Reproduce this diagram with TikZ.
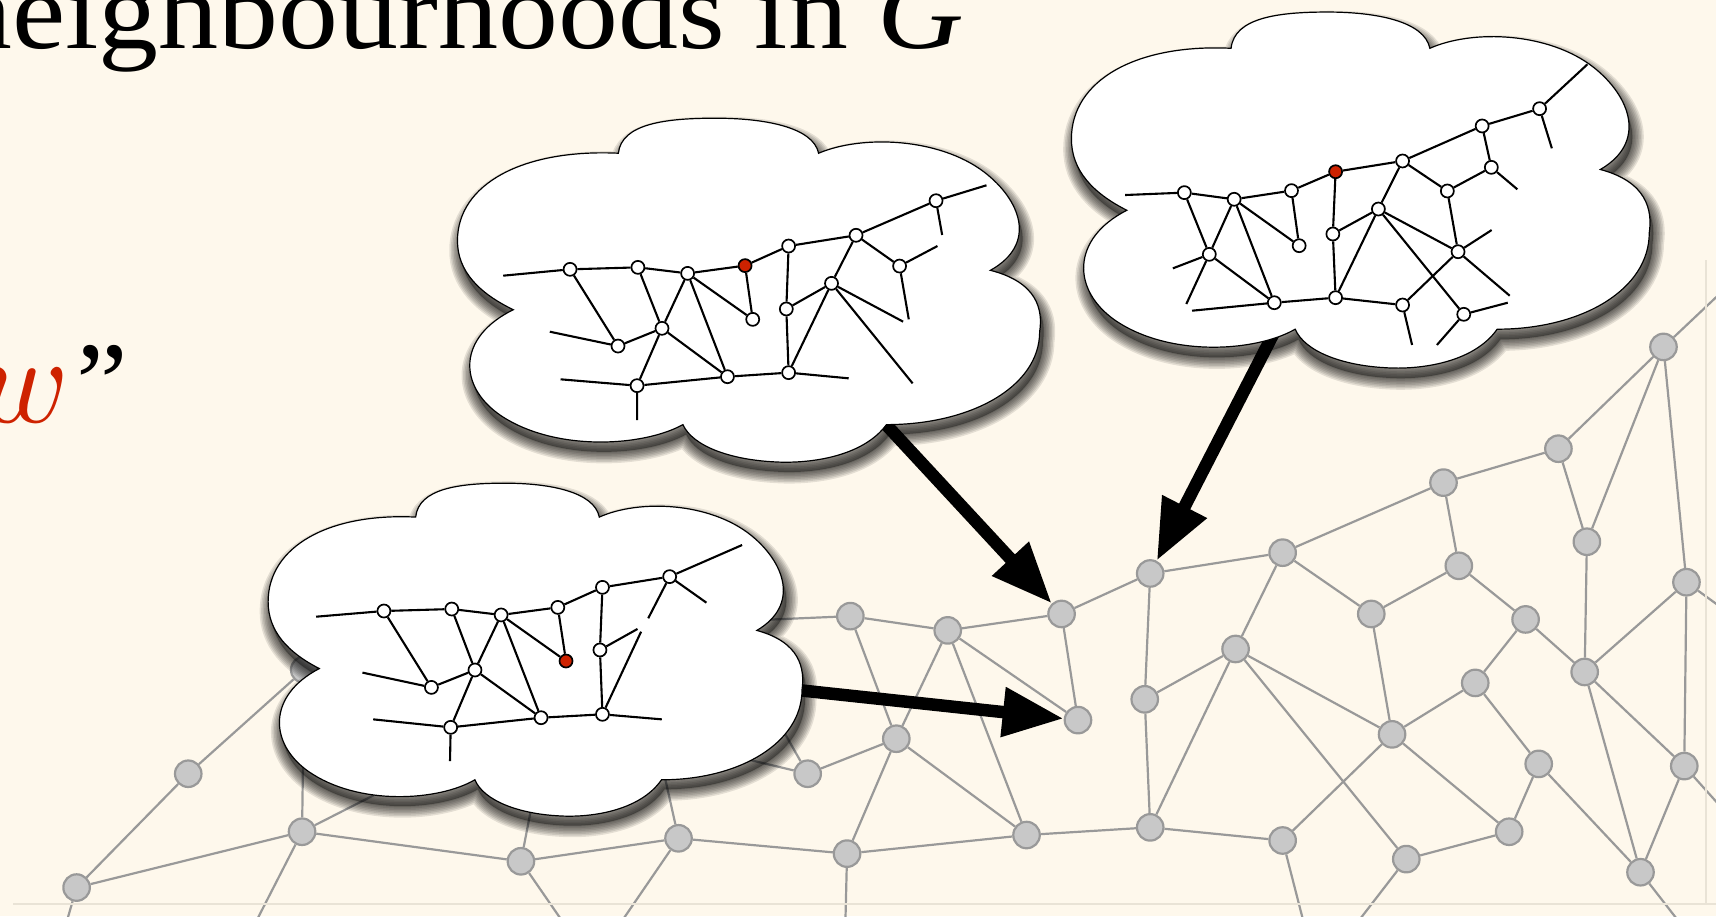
\documentclass[tikz,border=0pt]{standalone}
\usepackage{fontspec}
\setmainfont{Liberation Serif}
\newfontfamily\titlefont[FakeStretch=1.09]{Liberation Serif}
\usetikzlibrary{arrows.meta}

\definecolor{paper}{RGB}{254,248,236}
\definecolor{nodegray}{RGB}{200,200,200}
\definecolor{edgegray}{RGB}{153,153,153}
\definecolor{hotred}{RGB}{206,34,0}
\definecolor{framegray}{RGB}{233,227,214}

% outline of a thought cloud, in its own local units (532 x 314)
\newcommand{\cloudoutline}{(51,175) .. controls (20,160) and (0,140) .. (0,112)
  .. controls (0,60) and (60,28) .. (147,32)
  .. controls (150,5) and (190,0) .. (236,0)
  .. controls (280,0) and (325,8) .. (330,32)
  .. controls (370,15) and (440,18) .. (481,49)
  .. controls (515,75) and (530,115) .. (487,139)
  .. controls (530,150) and (535,175) .. (532,195)
  .. controls (532,245) and (470,280) .. (392,280)
  .. controls (370,310) and (320,316) .. (289,314)
  .. controls (250,312) and (215,300) .. (206,280)
  .. controls (170,300) and (90,305) .. (40,272)
  .. controls (0,245) and (0,200) .. (51,175) -- cycle}

% cloud with a soft drop shadow: #1 shift, #2 xscale, #3 yscale
\newcommand{\drawcloud}[3]{%
  \begin{scope}[shift={#1}, xscale=#2, yscale=#3]
    \begin{scope}[shift={(3,9)}]
      \foreach \w in {2,5,8,11,14,17,20,23}{
        \draw[black, line width=\w pt, opacity=0.1, line join=round] \cloudoutline;
      }
      \fill[black, opacity=0.35] \cloudoutline;
    \end{scope}
    \path[cloudbody] \cloudoutline;
  \end{scope}}

\begin{document}
\begin{tikzpicture}[x=1.0944pt, y=-1.0944pt,
  gn/.style={circle, fill=nodegray, draw=edgegray, line width=2.2pt, minimum size=26.5pt, inner sep=0pt},
  ge/.style={draw=edgegray, line width=2.2pt},
  mn/.style={circle, fill=white, draw=black, line width=1.7pt, minimum size=13pt, inner sep=0pt},
  mr/.style={mn, fill=hotred},
  me/.style={draw=black, line width=2.1pt},
  bigarrow/.style={draw=black, line width=12.5pt, -{Triangle[length=61pt,width=47pt]}},
  cloudbody/.style={fill=white, draw=black, line width=1.2pt},
  framing/.style={draw=framegray, line width=1.6pt}]

\useasboundingbox (0,0) rectangle (1568,837);
\clip (0,0) rectangle (1568,837);
\fill[paper] (0,0) rectangle (1568,837);

% ---------------- the large graph G ----------------
\node[gn] (g1)  at (1520,317) {};
\node[gn] (g2)  at (1424,410) {};
\node[gn] (g3)  at (1319,441) {};
\node[gn] (g4)  at (1450,495) {};
\node[gn] (g5)  at (1172,505) {};
\node[gn] (g6)  at (1333,517) {};
\node[gn] (g7)  at (1051,524) {};
\node[gn] (g8)  at (1541,532) {};
\node[gn] (g9)  at (970,561) {};
\node[gn] (g10) at (1253,561) {};
\node[gn] (g11) at (1394,566) {};
\node[gn] (g12) at (866,576) {};
\node[gn] (g13) at (777,563) {};
\node[gn] (g14) at (1129,593) {};
\node[gn] (g15) at (1448,614) {};
\node[gn] (g16) at (1348,624) {};
\node[gn] (g17) at (1046,639) {};
\node[gn] (g18) at (985,658) {};
\node[gn] (g19) at (819,675) {};
\node[gn] (g20) at (1272,671) {};
\node[gn] (g21) at (1406,698) {};
\node[gn] (g22) at (1539,700) {};
\node[gn] (g23) at (738,707) {};
\node[gn] (g24) at (172,707) {};
\node[gn] (g25) at (276,760) {};
\node[gn] (g26) at (938,763) {};
\node[gn] (g27) at (1051,756) {};
\node[gn] (g28) at (620,766) {};
\node[gn] (g29) at (774,780) {};
\node[gn] (g30) at (1172,768) {};
\node[gn] (g31) at (1379,760) {};
\node[gn] (g32) at (476,787) {};
\node[gn] (g33) at (1285,785) {};
\node[gn] (g34) at (70,811) {};
\node[gn] (g35) at (1499,797) {};
\node[gn] (g36) at (278,612) {};

% free ends of edges leaving the frame or passing under a cloud
\coordinate (s1)  at (1574,266);
\coordinate (s8)  at (1574,556);
\coordinate (s22) at (1574,739);
\coordinate (s30) at (1191,842);
\coordinate (s33) at (1241,842);
\coordinate (s35) at (1534,842);
\coordinate (s29) at (772.5,842);
\coordinate (s28) at (568,842);
\coordinate (s32) at (514,842);
\coordinate (s25) at (234,842);
\coordinate (s34) at (61,842);
\coordinate (h13)  at (660,568);
\coordinate (h23a) at (700,640);
\coordinate (h23b) at (650,686);
\coordinate (h28)  at (603,690);
\coordinate (h32)  at (489,720);
\coordinate (h25)  at (380,707);

\path[ge] (g1) -- (g2)  (g1) -- (g4)  (g1) -- (g8)  (g1) -- (s1)
  (g2) -- (g3)  (g2) -- (g4)
  (g3) -- (g5)  (g3) -- (g6)
  (g5) -- (g7)  (g5) -- (g10)  (g5) -- (g14)
  (g7) -- (g9)  (g7) -- (g17)
  (g6) -- (g10)  (g6) -- (g11)
  (g4) -- (g15)
  (g8) -- (g15)  (g8) -- (g22)  (g8) -- (s8)
  (g9) -- (g12)  (g9) -- (g18)
  (g12) -- (g13)  (g12) -- (g18)  (g12) -- (g19)  (g12) -- (g26)
  (g13) -- (g19)  (g13) -- (h13)
  (g14) -- (g17)  (g14) -- (g20)  (g14) -- (g33)  (g14) -- (g27)
  (g10) -- (g20)
  (g11) -- (g16)  (g11) -- (g15)
  (g16) -- (g20)  (g16) -- (g21)
  (g20) -- (g30)  (g20) -- (g31)
  (g21) -- (g31)  (g21) -- (g35)
  (g15) -- (g35)  (g15) -- (g22)
  (g22) -- (g35)  (g22) -- (s22)
  (g26) -- (g27)  (g26) -- (g29)
  (g27) -- (g30)  (g17) -- (g27)
  (g30) -- (s30)
  (g33) -- (g31)  (g33) -- (s33)
  (g35) -- (s35)
  (g19) -- (g29)  (g19) -- (g26)  (g19) -- (g23)
  (g29) -- (s29)
  (g23) -- (h23a)  (g23) -- (h23b)
  (g28) -- (g32)  (g28) -- (g29)  (g28) -- (h28)  (g28) -- (s28)
  (g32) -- (g25)  (g32) -- (h32)  (g32) -- (s32)
  (g25) -- (g34)  (g25) -- (g36)  (g25) -- (h25)  (g25) -- (s25)
  (g24) -- (g34)  (g24) -- (g36)
  (g34) -- (s34);

% thin frame round the graph
\coordinate (fr1) at (1559,238);
\coordinate (fr2) at (1559,826);
\coordinate (fr3) at (12,826);
\coordinate (fr4) at (1570,826);
\path[framing] (fr1) -- (fr2)  (fr3) -- (fr4);

% ---------------- arrows from the clouds into G ----------------
\coordinate (arr1) at (793,370);
\coordinate (arr2) at (1179,275);
\coordinate (arr3) at (696,627);
\draw[bigarrow] (arr1) -- (g9);
\draw[bigarrow] (arr2) -- (g7);
\draw[bigarrow] (arr3) -- (g18);

% ---------------- the three clouds ----------------
\drawcloud{(418,108)}{1}{1}
\drawcloud{(979,11)}{0.9925}{1.035}
\drawcloud{(245,441.5)}{0.917}{0.968}

% ---------------- neighbourhood in the middle cloud ----------------
\node[mn] (a1)  at (520.9,246.1) {};
\node[mn] (a2)  at (582.9,244.3) {};
\node[mn] (a3)  at (628.3,249.8) {};
\node[mr] (a4)  at (680.8,242.7) {};
\node[mn] (a5)  at (720.6,224.8) {};
\node[mn] (a6)  at (782.2,215.0) {};
\node[mn] (a7)  at (855.3,183.4) {};
\node[mn] (a8)  at (822.0,243.1) {};
\node[mn] (a9)  at (759.8,258.9) {};
\node[mn] (a10) at (718.5,282.3) {};
\node[mn] (a11) at (687.8,291.8) {};
\node[mn] (a12) at (604.9,300.0) {};
\node[mn] (a13) at (564.7,316.2) {};
\node[mn] (a14) at (582.1,352.4) {};
\node[mn] (a15) at (664.7,344.2) {};
\node[mn] (a16) at (720.6,340.5) {};
\coordinate (a1l)  at (459.8,251.9);
\coordinate (a7r)  at (901.4,169.3);
\coordinate (a7d)  at (860.9,214.7);
\coordinate (a8r)  at (856.6,224.8);
\coordinate (a8d)  at (830.4,291.8);
\coordinate (a9r)  at (825.2,293.9);
\coordinate (a9d)  at (833.9,350.3);
\coordinate (a13l) at (502.4,303.1);
\coordinate (a14l) at (512.2,346.6);
\coordinate (a14d) at (582.1,383.8);
\coordinate (a16r) at (775.5,345.7);
\path[me] (a1l) -- (a1) -- (a2) -- (a3) -- (a4) -- (a5) -- (a6) -- (a7) -- (a7r)
  (a7) -- (a7d)
  (a6) -- (a8)  (a8) -- (a8r)  (a8) -- (a8d)
  (a6) -- (a9)  (a9) -- (a10)  (a9) -- (a9r)  (a9) -- (a9d)  (a9) -- (a16)
  (a5) -- (a10)  (a10) -- (a16)
  (a4) -- (a11)  (a3) -- (a11)
  (a3) -- (a12)  (a3) -- (a15)  (a2) -- (a12)
  (a1) -- (a13)  (a13) -- (a13l)  (a13) -- (a12)
  (a12) -- (a14)  (a12) -- (a15)
  (a14) -- (a14l)  (a14) -- (a14d)  (a14) -- (a15)  (a15) -- (a16)  (a16) -- (a16r);

% ---------------- neighbourhood in the upper right cloud ----------------
\node[mn] (c1)  at (1082.2,176.0) {};
\node[mn] (c2)  at (1127.7,182.1) {};
\node[mn] (c3)  at (1180.1,174.2) {};
\node[mr] (c4)  at (1220.4,156.9) {};
\node[mn] (c5)  at (1281.6,147.1) {};
\node[mn] (c6)  at (1354.3,115.1) {};
\node[mn] (c7)  at (1406.8,99.3) {};
\node[mn] (c8)  at (1362.7,152.9) {};
\node[mn] (c9)  at (1322.5,174.5) {};
\node[mn] (c10) at (1259.5,191.0) {};
\node[mn] (c11) at (1217.9,213.8) {};
\node[mn] (c12) at (1187.1,224.5) {};
\node[mn] (c13) at (1105.0,232.4) {};
\node[mn] (c14) at (1164.4,276.6) {};
\node[mn] (c15) at (1220.4,272.0) {};
\node[mn] (c16) at (1281.6,278.7) {};
\node[mn] (c17) at (1332.3,230.0) {};
\node[mn] (c18) at (1337.5,287.2) {};
\coordinate (c1l)  at (1028.0,178.2);
\coordinate (c7r)  at (1450.5,58.8);
\coordinate (c7d)  at (1418.0,135.5);
\coordinate (c8d)  at (1386.5,173.0);
\coordinate (c17r) at (1363.0,210.2);
\coordinate (c17d) at (1379.5,270.2);
\coordinate (c13l) at (1071.7,245.2);
\coordinate (c13d) at (1084.0,277.8);
\coordinate (c14l) at (1089.2,283.9);
\coordinate (c16d) at (1290.3,315.2);
\coordinate (c18r) at (1377.7,276.6);
\coordinate (c18d) at (1313.0,315.2);
\path[me] (c1l) -- (c1) -- (c2) -- (c3) -- (c4) -- (c5) -- (c6) -- (c7) -- (c7r)
  (c7) -- (c7d)
  (c6) -- (c8)  (c8) -- (c8d)  (c8) -- (c9)  (c5) -- (c9)  (c9) -- (c17)
  (c5) -- (c10)  (c10) -- (c11)  (c4) -- (c11)  (c11) -- (c15)  (c10) -- (c15)
  (c10) -- (c17)  (c10) -- (c18)
  (c17) -- (c17r)  (c17) -- (c17d)  (c17) -- (c16)
  (c3) -- (c12)  (c2) -- (c12)  (c2) -- (c13)  (c2) -- (c14)  (c1) -- (c13)
  (c13) -- (c13l)  (c13) -- (c13d)  (c13) -- (c14)
  (c14) -- (c14l)  (c14) -- (c15)  (c15) -- (c16)  (c16) -- (c16d)
  (c18) -- (c18r)  (c18) -- (c18d);

% ---------------- neighbourhood in the lower left cloud ----------------
\node[mn] (b1)  at (350.8,558.3) {};
\node[mn] (b2)  at (412.8,556.5) {};
\node[mn] (b3)  at (457.9,561.9) {};
\node[mn] (b4)  at (509.7,555.0) {};
\node[mn] (b5)  at (550.5,536.7) {};
\node[mn] (b6)  at (611.9,526.9) {};
\node[mr] (b7)  at (517.2,604.0) {};
\node[mn] (b8)  at (548.2,593.9) {};
\node[mn] (b9)  at (434.0,612.2) {};
\node[mn] (b10) at (394.2,628.1) {};
\node[mn] (b11) at (411.8,664.6) {};
\node[mn] (b12) at (494.4,655.8) {};
\node[mn] (b13) at (550.5,652.7) {};
\coordinate (b1l)  at (288.8,563.5);
\coordinate (b6r)  at (678.1,498.0);
\coordinate (b6d)  at (645.5,550.7);
\coordinate (b6l)  at (592.3,565.0);
\coordinate (b8r)  at (582.5,574.7);
\coordinate (b13u) at (585.8,577.2);
\coordinate (b10l) at (331.2,614.6);
\coordinate (b11l) at (341.0,657.3);
\coordinate (b11d) at (411.2,695.4);
\coordinate (b13r) at (604.7,657.3);
\path[me] (b1l) -- (b1) -- (b2) -- (b3) -- (b4) -- (b5) -- (b6) -- (b6r)
  (b6) -- (b6d)  (b6) -- (b6l)
  (b4) -- (b7)  (b3) -- (b7)
  (b5) -- (b8)  (b8) -- (b8r)  (b8) -- (b13)  (b13) -- (b13u)
  (b2) -- (b9)  (b3) -- (b9)  (b3) -- (b12)
  (b1) -- (b10)  (b10) -- (b10l)  (b10) -- (b9)
  (b9) -- (b11)  (b9) -- (b12)
  (b11) -- (b11l)  (b11) -- (b11d)  (b11) -- (b12)  (b12) -- (b13)  (b13) -- (b13r);

% ---------------- text ----------------
\node[anchor=base west, inner sep=0pt, font=\titlefont\fontsize{110}{110}\selectfont]
  (title) at (-43.9,43.9) {neighbourhoods in \textit{G}};
\node[anchor=base east, inner sep=0pt, text=hotred, scale=12.5, transform shape]
  (wvar) at (66,385.6) {$w$};
\node[anchor=base west, inner sep=0pt, font=\fontsize{116}{116}\selectfont]
  (wquote) at (69.5,385.6) {”};
\end{tikzpicture}
\end{document}
